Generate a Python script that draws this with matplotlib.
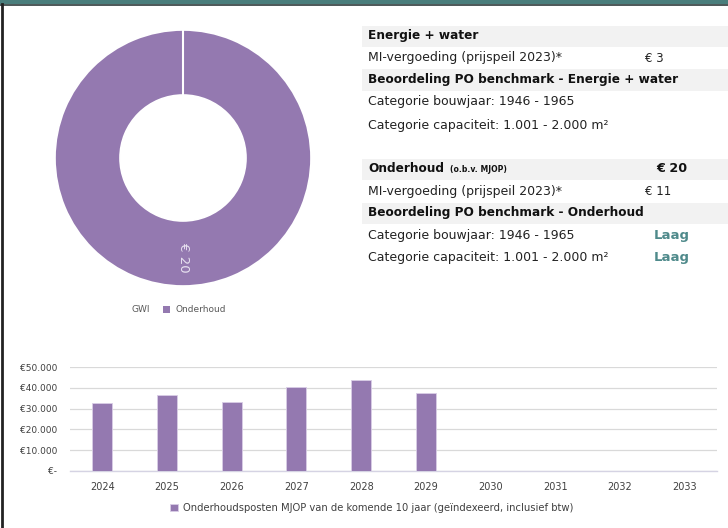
import matplotlib
matplotlib.use("Agg")
import matplotlib.pyplot as plt
from matplotlib.patches import Rectangle
from matplotlib.lines import Line2D
from matplotlib.ticker import FuncFormatter

# ---------------- data ----------------
donut_labels = ["GWI", "Onderhoud"]
donut_values = [0, 20]

years = ["2024", "2025", "2026", "2027", "2028", "2029", "2030", "2031", "2032", "2033"]
mjop_costs = [32600, 36700, 33300, 40300, 43700, 37400, 0, 0, 0, 0]
y_ticks = [0, 10000, 20000, 30000, 40000, 50000]

table_rows = [
    ("Energie + water", "", "header"),
    ("MI-vergoeding (prijspeil 2023)*", "€ 3", "normal"),
    ("Beoordeling PO benchmark - Energie + water", "", "header"),
    ("Categorie bouwjaar: 1946 - 1965", "", "normal"),
    ("Categorie capaciteit: 1.001 - 2.000 m²", "", "normal"),
    ("Onderhoud", "€ 20", "header"),
    ("MI-vergoeding (prijspeil 2023)*", "€ 11", "normal"),
    ("Beoordeling PO benchmark - Onderhoud", "", "header"),
    ("Categorie bouwjaar: 1946 - 1965", "Laag", "normal"),
    ("Categorie capaciteit: 1.001 - 2.000 m²", "Laag", "normal"),
]
row_y = [36, 58, 80, 102, 125, 169, 191, 213, 236, 258]

PURPLE = "#9479B0"

W, H = 728, 528
fig = plt.figure(figsize=(W / 100, H / 100), dpi=100)
plt.rcParams["font.family"] = ["DejaVu Sans"]


def fx(x):
    return x / W


def fy(y):
    return 1 - y / H


# frame decorations
fig.patches.append(Rectangle((0, fy(4)), 1, 4 / H, transform=fig.transFigure,
                             facecolor="#4A7E7C", edgecolor="none", zorder=0))
fig.lines.append(Line2D([0, 1], [fy(4.5), fy(4.5)], transform=fig.transFigure,
                        color="#2E3B3B", lw=1.2))
fig.lines.append(Line2D([fx(1.5), fx(1.5)], [0, fy(4)], transform=fig.transFigure,
                        color="#222222", lw=2))

# ---------------- donut ----------------
cx, cy, r = 183, 158, 128
ring = 65 / 128
axp = fig.add_axes([fx(cx - r), fy(cy + r), 2 * r / W, 2 * r / H])
wedges, _ = axp.pie(donut_values, colors=["#FFFFFF", PURPLE], startangle=90,
                    counterclock=False, radius=1,
                    wedgeprops=dict(width=ring, edgecolor="white", linewidth=1.2))
# separator where the (zero) GWI slice sits
axp.plot([0, 0], [1 - ring - 0.02, 1.02], color="white", lw=1.5, zorder=5)
axp.set_xlim(-1, 1)
axp.set_ylim(-1, 1)
axp.set_aspect("equal")
axp.text(0, -0.78, "€ " + str(donut_values[1]), rotation=-90, ha="center", va="center",
         color="#E8E2F0", fontsize=9.5)

# legend under donut
fig.text(fx(150), fy(309), donut_labels[0], ha="right", va="center", fontsize=6.5, color="#595959")
fig.patches.append(Rectangle((fx(163), fy(312.5)), 7 / W, 7 / H, transform=fig.transFigure,
                             facecolor=PURPLE, edgecolor="none"))
fig.text(fx(176), fy(309), donut_labels[1], ha="left", va="center", fontsize=6.5, color="#595959")

# ---------------- table ----------------
HFS = 8.7
NFS = 9.0
for (label, val, kind), y in zip(table_rows, row_y):
    if kind == "header":
        fig.patches.append(Rectangle((fx(362), fy(y + 10.5)), (W - 362) / W, 21 / H,
                                     transform=fig.transFigure, facecolor="#F2F2F2",
                                     edgecolor="none", zorder=0))
        fig.text(fx(368), fy(y), label, ha="left", va="center", fontsize=HFS,
                 fontweight="bold", color="#111111")
        if label == "Onderhoud":
            fig.text(fx(450), fy(y + 1), "(o.b.v. MJOP)", ha="left", va="center", fontsize=5.6,
                     fontweight="bold", color="#111111")
        if val:
            fig.text(fx(687), fy(y), val, ha="right", va="center", fontsize=9.2,
                     fontweight="bold", color="#111111")
    else:
        fig.text(fx(368), fy(y), label, ha="left", va="center", fontsize=NFS, color="#222222")
        if val.startswith("€"):
            fig.text(fx(645), fy(y), val, ha="left", va="center", fontsize=8.5, color="#222222")
        elif val:
            fig.text(fx(690), fy(y), val, ha="right", va="center", fontsize=9.5,
                     fontweight="bold", color="#4F8A8B")

# ---------------- bar chart ----------------
x0, x1 = 70, 717
yb0, yb1 = 470.7, 367.3
axb = fig.add_axes([fx(x0), fy(yb0), (x1 - x0) / W, (yb0 - yb1) / H])
xpos = list(range(len(years)))
axb.bar(xpos, mjop_costs, width=0.31, color=PURPLE, edgecolor="#D9CDE6", linewidth=0.6,
        zorder=3, label="Onderhoudsposten MJOP van de komende 10 jaar (geïndexeerd, inclusief btw)")
axb.set_xlim(-0.5, len(years) - 0.5)
axb.set_ylim(0, 50000)
axb.set_yticks(y_ticks)
axb.yaxis.set_major_formatter(FuncFormatter(
    lambda v, p: "€-" if v == 0 else "€" + f"{int(v):,}".replace(",", ".")))
axb.set_xticks(xpos)
axb.set_xticklabels(years)
axb.tick_params(axis="both", length=0, colors="#404040")
axb.tick_params(axis="x", pad=8, labelsize=7)
axb.tick_params(axis="y", pad=9, labelsize=6.5)
axb.grid(axis="y", color="#D9D9D9", linewidth=0.9, zorder=0)
for s in ["top", "right", "left"]:
    axb.spines[s].set_visible(False)
axb.spines["bottom"].set_color("#D5D3E3")
axb.spines["bottom"].set_linewidth(1)
axb.legend(loc="center", bbox_to_anchor=((372 - x0) / (x1 - x0), (470.7 - 508) / 103.4),
           bbox_transform=axb.transAxes,
           frameon=False, fontsize=7.2, handlelength=0.8, handleheight=0.8, labelcolor="#404040",
           handletextpad=0.5)

fig.savefig("out.png", dpi=100, facecolor="white")
